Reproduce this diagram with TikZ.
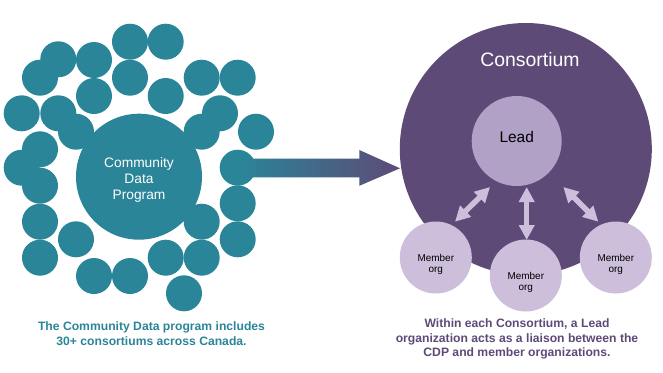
\documentclass[tikz,border=0pt]{standalone}
\usepackage{fontspec}
\setmainfont{Liberation Sans}
\usetikzlibrary{arrows.meta}
\definecolor{cdpteal}{HTML}{2A8598}
\definecolor{conspurple}{HTML}{5E4A77}
\definecolor{leadlilac}{HTML}{B1A1C6}
\definecolor{memberlilac}{HTML}{CDBFDB}
\definecolor{linklilac}{HTML}{CCBFDB}
\tikzset{
  cdpdot/.style={circle, fill=cdpteal, minimum size=36bp, inner sep=0pt},
  cdphub/.style={circle, fill=cdpteal, minimum size=126bp, inner sep=0pt},
  hubtext/.style={text=white, align=center, font=\fontsize{13.8}{16}\selectfont, yshift=-3bp},
  consbig/.style={circle, fill=conspurple, minimum size=252bp, inner sep=0pt},
  leadorg/.style={circle, fill=leadlilac, minimum size=90bp, inner sep=0pt},
  memberorg/.style={circle, fill=memberlilac, minimum size=72bp, inner sep=0pt},
  orgtext/.style={align=center, font=\fontsize{10}{11}\selectfont, yshift=-7bp},
  orglink/.style={draw=linklilac, line width=5.5bp, {Triangle[width=15bp,length=15bp]}-{Triangle[width=15bp,length=15bp]}},
  notetext/.style={align=center, font=\bfseries\fontsize{12.2}{14.5}\selectfont}
}
\begin{document}
\begin{tikzpicture}[x=1bp, y=-1bp]
\useasboundingbox (0,0) rectangle (663,372);
\node[cdpdot] (dot1) at (130,41.7) {};
\node[cdpdot] (dot2) at (165.7,41.7) {};
\node[cdpdot] (dot3) at (58.3,59.3) {};
\node[cdpdot] (dot4) at (94,60) {};
\node[cdpdot] (dot5) at (40,77.7) {};
\node[cdpdot] (dot6) at (130,77.7) {};
\node[cdpdot] (dot7) at (201.7,77.7) {};
\node[cdpdot] (dot8) at (237.7,77.7) {};
\node[cdpdot] (dot9) at (94,96) {};
\node[cdpdot] (dot10) at (165.7,96) {};
\node[cdpdot] (dot11) at (21.7,113.3) {};
\node[cdpdot] (dot12) at (58.3,113.3) {};
\node[cdpdot] (dot13) at (220,113.3) {};
\node[cdpdot] (dot14) at (76,131.7) {};
\node[cdpdot] (dot15) at (201.7,131.7) {};
\node[cdpdot] (dot16) at (256,131.7) {};
\node[cdpdot] (dot17) at (40,149.3) {};
\node[cdpdot] (dot18) at (21.7,167.7) {};
\node[cdpdot] (dot19) at (237.7,167.7) {};
\node[cdpdot] (dot20) at (40,185.7) {};
\node[cdpdot] (dot21) at (237.7,203.3) {};
\node[cdpdot] (dot22) at (40,221.7) {};
\node[cdpdot] (dot23) at (201.7,221.7) {};
\node[cdpdot] (dot24) at (76,239.3) {};
\node[cdpdot] (dot25) at (237.7,239.3) {};
\node[cdpdot] (dot26) at (40,257.7) {};
\node[cdpdot] (dot27) at (165.7,257.7) {};
\node[cdpdot] (dot28) at (201.7,257.7) {};
\node[cdpdot] (dot29) at (94,276) {};
\node[cdpdot] (dot30) at (130,276) {};
\node[cdpdot] (dot31) at (184,293.3) {};
\node[cdphub, label={[hubtext]center:{Community\\Data\\Program}}] (cdp) at (139,176.7) {};
\node[consbig] (cons) at (525.8,149) {};
\node[text=white, font=\fontsize{19.5}{23}\selectfont] (constitle) at (530,60) {Consortium};
\node[leadorg, label={[font=\fontsize{15.5}{18}\selectfont, yshift=4bp]center:Lead}] (lead) at (516.7,141) {};
\node[memberorg, label={[orgtext]center:{Member\\org}}] (mleft) at (435.8,257.5) {};
\node[memberorg, label={[orgtext]center:{Member\\org}}] (mmid) at (525.8,275.5) {};
\node[memberorg, label={[orgtext]center:{Member\\org}}] (mright) at (615.8,257.5) {};
\coordinate (arrowtip) at (400,168.3);
\shade[left color=cdpteal, right color=conspurple] (dot19.center) ++(0,-9.2) -- ++(121.6,0) -- ++(0,-8.5) -- (arrowtip) -- ++(-40.7,17.5) -- ++(0,-8.5) -- ++(-121.6,0) -- cycle;
\draw[orglink] ([shift={(-26.7,46)}]lead.center) -- ([shift={(19.2,-35.8)}]mleft.center);
\draw[orglink] ([shift={(10,46)}]lead.center) -- ([shift={(0.9,-35.5)}]mmid.center);
\draw[orglink] ([shift={(46.6,46)}]lead.center) -- ([shift={(-17.5,-35.8)}]mright.center);
\node[notetext, text=cdpteal] (cdpnote) at (151.5,333.5) {The Community Data program includes\\30+ consortiums across Canada.};
\node[notetext, text=conspurple] (consnote) at (517,339) {Within each Consortium, a Lead\\organization acts as a liaison between the\\CDP and member organizations.};
\end{tikzpicture}
\end{document}
